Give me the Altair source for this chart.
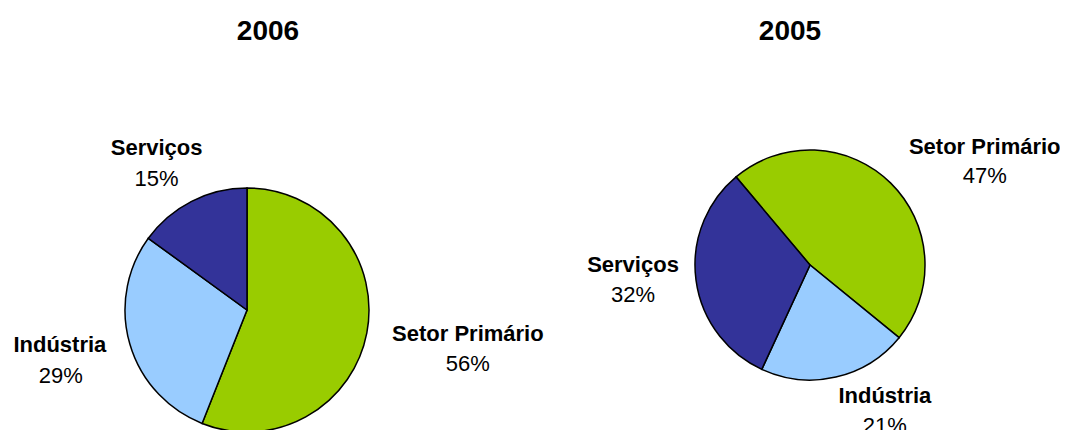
import math
import altair as alt
import pandas as pd

# ---- data ----
setores = ["Setor Primário", "Indústria", "Serviços"]
valores_2006 = [56, 29, 15]
valores_2005 = [47, 21, 32]
cores = ["#99CC00", "#99CCFF", "#333399"]
anos = ["2006", "2005"]

FONT = "Liberation Sans"


def tabela(valores):
    return pd.DataFrame({
        "setor": setores,
        "valor": valores,
        "ordem": list(range(len(setores))),
        "pct": [f"{v}%" for v in valores],
    })


def pizza(valores, titulo, largura, altura, cx, cy, raio, inicio_graus, offsets, title_dx, clipados):
    start = math.radians(inicio_graus)
    base = alt.Chart(tabela(valores)).transform_window(
        fim="sum(valor)", sort=[{"field": "ordem"}], frame=[None, 0]
    ).transform_calculate(
        ini="datum.fim - datum.valor", meio="datum.fim - datum.valor / 2"
    )
    theta_scale = alt.Scale(domain=[0, 100], range=[start, start + 2 * math.pi])
    arcs = base.mark_arc(outerRadius=raio, stroke="black", strokeWidth=1.5, clip=True).encode(
        theta=alt.Theta("ini:Q", scale=theta_scale, stack=None),
        theta2="fim:Q",
        color=alt.Color("setor:N", scale=alt.Scale(domain=setores, range=cores), legend=None),
        x=alt.value(cx),
        y=alt.value(cy),
    )
    layers = [arcs]
    for s in setores:
        (dx1, dy1), (dx2, dy2) = offsets[s]
        f = base.transform_filter(alt.datum.setor == s)
        enc = dict(
            theta=alt.Theta("meio:Q", scale=theta_scale, stack=None),
            x=alt.value(cx),
            y=alt.value(cy),
        )
        clip = s in clipados
        layers.append(
            f.mark_text(radius=raio, dx=dx1, dy=dy1, fontSize=22, fontWeight="bold",
                        font=FONT, color="black", clip=clip, baseline="middle", align="center")
            .encode(text="setor:N", **enc)
        )
        layers.append(
            f.mark_text(radius=raio, dx=dx2, dy=dy2, fontSize=22, fontWeight="normal",
                        font=FONT, color="black", clip=clip, baseline="middle", align="center")
            .encode(text="pct:N", **enc)
        )
    return alt.layer(*layers).properties(
        width=largura,
        height=altura,
        title=alt.TitleParams(titulo, fontSize=28, fontWeight="bold", font=FONT, color="black",
                              anchor="middle", frame="group", offset=14, dx=title_dx),
    )


off_2006 = {
    "Setor Primário": ((101, 1), (101, 31)),
    "Indústria": ((-70, 1), (-69, 32)),
    "Serviços": ((-35, -53), (-35, -22)),
}
off_2005 = {
    "Setor Primário": ((94, -36), (94, -7)),
    "Indústria": ((49, 19), (49, 49)),
    "Serviços": ((-63, -15), (-63, 15)),
}

left = pizza(valores_2006, anos[0], 520, 370, 239, 250, 122, 0, off_2006, 0, [])
right = pizza(valores_2005, anos[1], 532, 370, 282, 205, 115, 320, off_2005, -4,
              ["Setor Primário", "Indústria"])

chart = alt.hconcat(left, right, spacing=0, bounds="flush").resolve_scale(
    theta="independent"
).configure_view(stroke=None).properties(
    padding={"top": 10, "left": 0, "right": 0, "bottom": 0}, background="white"
)

chart.save("out.html", embed_options={"renderer": "svg", "actions": False})
